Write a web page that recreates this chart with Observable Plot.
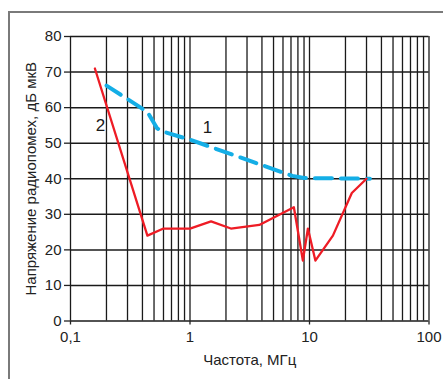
<!DOCTYPE html>
<html><head><meta charset="utf-8">
<script src="https://cdn.jsdelivr.net/npm/d3@7"></script>
<script src="https://cdn.jsdelivr.net/npm/@observablehq/plot@0.6"></script>
<style>
html,body{margin:0;padding:0;background:#fff;}
#wrap{position:relative;width:443px;height:379px;overflow:hidden;}
#frame{position:absolute;left:8px;top:11px;width:460px;height:400px;border-left:2px solid #7a7a7a;border-top:2px solid #7a7a7a;}
#chart{position:absolute;left:0;top:0;}
</style></head>
<body><div id="wrap"><div id="frame"></div><div id="chart"></div></div>
<script>
// Curve 2 (red)
const redFreq = [0.16, 0.44, 0.6, 1.0, 1.5, 2.2, 3.8, 7.4, 8.8, 9.7, 11.2, 15.7, 22.6, 30];
const redLevel = [71, 24, 26, 26, 28, 26, 27, 32, 17, 26, 17, 24, 36, 40];
// Curve 1 (blue dashed)
const blueFreq = [0.2, 0.44, 0.53, 0.6, 1.0, 7.2, 9, 32];
const blueLevel = [66.2, 58.8, 54.2, 53.2, 51, 40.8, 40.2, 40];
const xTicks = [0.1, 1, 10, 100];
const yTicks = [0, 10, 20, 30, 40, 50, 60, 70, 80];
const xGrid = [0.1,0.2,0.3,0.4,0.5,0.6,0.7,0.8,0.9,1,2,3,4,5,6,7,8,9,10,20,30,40,50,60,70,80,90,100];
const labels = [{x:0.178, y:55, t:"2"}, {x:1.4, y:54.5, t:"1"}];

const red = redFreq.map((f,i)=>({f, v: redLevel[i]}));
const blue = blueFreq.map((f,i)=>({f, v: blueLevel[i]}));
const fmt = d => String(d).replace(".", ",");

const plot = Plot.plot({
  width: 443, height: 379,
  marginLeft: 70, marginRight: 14.5, marginTop: 36, marginBottom: 58.5,
  style: {fontFamily: "Liberation Sans, Arial, sans-serif", fontSize: "15px", color: "#222", background: "transparent"},
  x: {type: "log", domain: [0.1, 100]},
  y: {domain: [0, 80]},
  marks: [
    Plot.ruleX(xGrid, {stroke: "#1a1a1a", strokeWidth: 1.3}),
    Plot.ruleY(yTicks, {stroke: "#1a1a1a", strokeWidth: 1.5}),
    Plot.line(blue, {x: "f", y: "v", stroke: "#14aee6", strokeWidth: 4, strokeDasharray: "17,9"}),
    Plot.line(red, {x: "f", y: "v", stroke: "#ee1c25", strokeWidth: 2.3}),
    Plot.text(labels, {x: "x", y: "y", text: "t", fontSize: 17, fill: "#1a1a1a"}),
    Plot.axisX({ticks: xTicks, tickSize: 4, tickPadding: 6, tickFormat: fmt, fontSize: 15, label: "Частота, МГц", labelAnchor: "center", labelOffset: 44, labelArrow: "none", strokeWidth: 1.3}),
    Plot.axisY({ticks: yTicks, tickSize: 6, tickPadding: 3, fontSize: 15, label: "Напряжение радиопомех, дБ мкВ", labelAnchor: "center", labelOffset: 45, labelArrow: "none", strokeWidth: 1.3})
  ]
});
document.getElementById("chart").appendChild(plot);
</script></body></html>
